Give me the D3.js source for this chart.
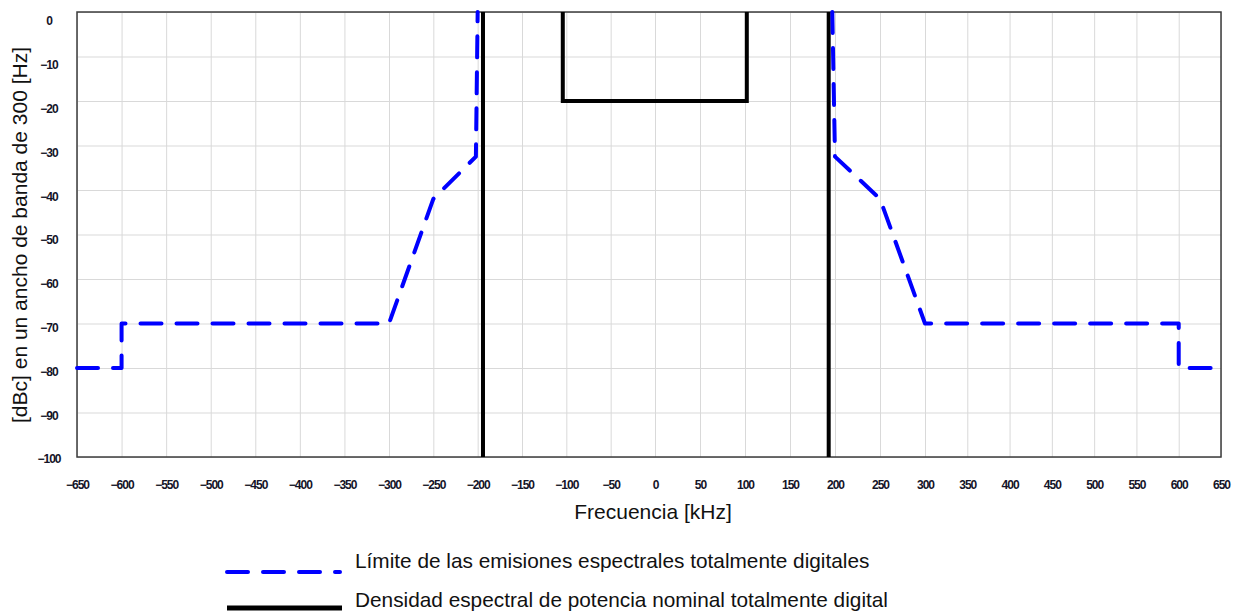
<!DOCTYPE html>
<html lang="es">
<head>
<meta charset="utf-8">
<title>Límite de emisiones espectrales</title>
<script src="https://cdn.jsdelivr.net/npm/d3@7/dist/d3.min.js"></script>
<style>
	body { margin: 0; background: #fff; }
	svg { display: block; font-family: "Liberation Sans", Arial, sans-serif; }
	.lbl text { font-weight: bold; font-size: 12px; fill: #141428; letter-spacing: -1px; }
	.grid line { stroke: #d9d9d9; stroke-width: 1; }
	.grid path, .lbl path { display: none; }
</style>
</head>
<body>
<script>
var w = 1240;
var h = 612;

// ticks
var xTicks = [-650, -600, -550, -500, -450, -400, -350, -300, -250, -200, -150, -100, -50, 0,
              50, 100, 150, 200, 250, 300, 350, 400, 450, 500, 550, 600, 650];
var yTicks = [0, -10, -20, -30, -40, -50, -60, -70, -80, -90, -100];

// limite de emisiones (azul, discontinua) - null separa los dos lados
var limitFreq = [-650, -600, -600, -300, -250, -202, -200, null, 197, 200, 250, 300, 600, 600, 650];
var limitDb   = [-80,  -80,  -70,  -70,  -42, -32.5, 0,    null, 0, -32.5, -42, -70, -70, -80, -80];

// densidad espectral nominal (negra)
var psdFreq = [-194, -194, null, -104, -104, 102, 102, null, 193, 193];
var psdDb   = [-100, 0,    null, 0,    -20,  -20, 0,   null, 0,   -100];

var legendLabels = ["Límite de las emisiones espectrales totalmente digitales",
                    "Densidad espectral de potencia nominal totalmente digital"];

var plotL = 77, plotR = 1221, plotT = 12, plotB = 457;

// the original axis is not quite uniform
var x = d3.scaleLinear()
	.domain([-650, -300, 0, 300, 650])
	.range([plotL, 389, 655, 925, plotR]);
var y = d3.scaleLinear().domain([-100, 0]).range([plotB, plotT]);
// tick labels drift a little from the grid lines
var yLab = d3.scaleLinear().domain([-100, 0]).range([459, 21]);

var svg = d3.select("body").append("svg")
	.attr("width", w)
	.attr("height", h);

// grid
svg.append("g")
	.attr("class", "grid")
	.attr("transform", "translate(0," + plotB + ")")
	.call(d3.axisBottom(x).tickValues(xTicks).tickSize(-(plotB - plotT)).tickFormat(""));
svg.append("g")
	.attr("class", "grid")
	.attr("transform", "translate(" + plotL + ",0)")
	.call(d3.axisLeft(y).tickValues(yTicks).tickSize(-(plotR - plotL)).tickFormat(""));

// frame
svg.append("rect")
	.attr("x", plotL)
	.attr("y", plotT)
	.attr("width", plotR - plotL)
	.attr("height", plotB - plotT)
	.attr("fill", "none")
	.attr("stroke", "#3c3c3c")
	.attr("stroke-width", 1.5);

// tick labels
svg.append("g")
	.attr("class", "lbl")
	.attr("transform", "translate(0," + plotB + ")")
	.call(d3.axisBottom(x).tickValues(xTicks).tickSize(0).tickPadding(23).tickFormat(d3.format("d")));
svg.append("g")
	.attr("class", "lbl")
	.attr("transform", "translate(" + 59 + ",0)")
	.call(d3.axisLeft(yLab).tickValues(yTicks).tickSize(0).tickPadding(0).tickFormat(d3.format("d")))
	.selectAll("text")
	.attr("text-anchor", "middle")
	.attr("x", -10);

var line = d3.line()
	.defined(function(d) { return d[0] !== null; })
	.x(function(d) { return x(d[0]); })
	.y(function(d) { return y(d[1]); });

var psd = psdFreq.map(function(f, i) { return [f, psdDb[i]]; });
var limit = limitFreq.map(function(f, i) { return [f, limitDb[i]]; });

svg.append("path")
	.attr("d", line(psd))
	.attr("fill", "none")
	.attr("stroke", "#000")
	.attr("stroke-width", 4);

svg.append("path")
	.attr("d", line(limit))
	.attr("fill", "none")
	.attr("stroke", "#0000ff")
	.attr("stroke-width", 4)
	.attr("stroke-linecap", "round")
	.attr("stroke-linejoin", "round")
	.attr("stroke-dasharray", "21,15");

// axis titles
svg.append("text")
	.attr("x", 653)
	.attr("y", 519)
	.attr("text-anchor", "middle")
	.attr("font-size", "21px")
	.attr("fill", "#111")
	.text("Frecuencia [kHz]");

svg.append("text")
	.attr("transform", "translate(27,235) rotate(-90)")
	.attr("text-anchor", "middle")
	.attr("font-size", "21px")
	.attr("fill", "#111")
	.text("[dBc] en un ancho de banda de 300 [Hz]");

// legend
var leg = svg.selectAll(".leg")
	.data(legendLabels)
	.enter()
	.append("g")
	.attr("class", "leg");

leg.append("line")
	.attr("x1", 227)
	.attr("x2", function(d, i) { return i === 0 ? 340 : 342; })
	.attr("y1", function(d, i) { return i === 0 ? 572 : 608; })
	.attr("y2", function(d, i) { return i === 0 ? 572 : 608; })
	.attr("stroke", function(d, i) { return i === 0 ? "#0000ff" : "#000"; })
	.attr("stroke-width", function(d, i) { return i === 0 ? 4 : 5; })
	.attr("stroke-linecap", function(d, i) { return i === 0 ? "round" : "butt"; })
	.attr("stroke-dasharray", function(d, i) { return i === 0 ? "21,15" : null; });

leg.append("text")
	.attr("x", 355)
	.attr("y", function(d, i) { return i === 0 ? 568 : 607; })
	.attr("font-size", "20.8px")
	.attr("fill", "#111")
	.text(function(d) { return d; });
</script>
</body>
</html>
